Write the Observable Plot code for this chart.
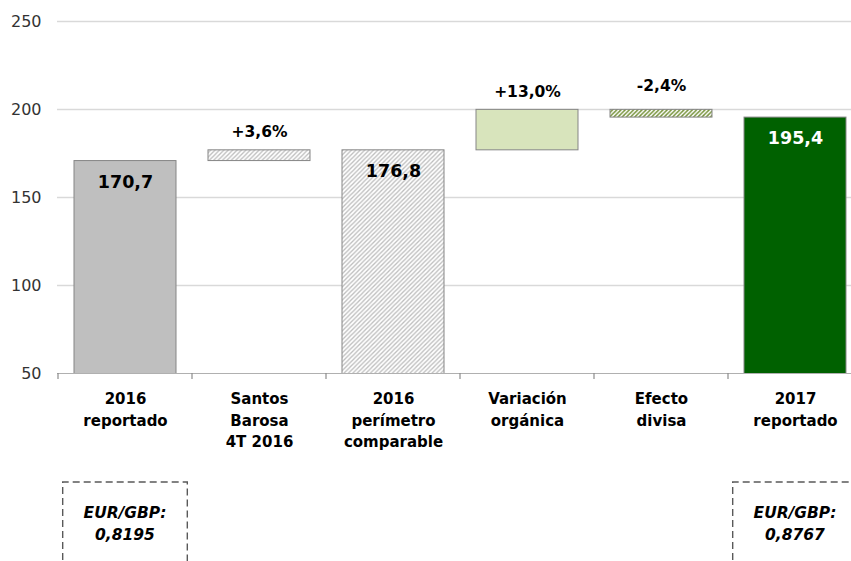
<!DOCTYPE html>
<html>
<head>
<meta charset="utf-8">
<script src="https://cdn.jsdelivr.net/npm/d3@7"></script>
<script src="https://cdn.jsdelivr.net/npm/@observablehq/plot@0.6"></script>
<style>
  html, body { margin: 0; padding: 0; background: #fff; }
  #chart { position: relative; width: 851px; height: 561px; overflow: hidden; }
</style>
</head>
<body>
<div id="chart"></div>
<script>
// ---- data ----
const categories = [
  "2016\nreportado",
  "Santos\nBarosa\n4T 2016",
  "2016\nperímetro\ncomparable",
  "Variación\norgánica",
  "Efecto\ndivisa",
  "2017\nreportado"
];
const barStart = [0, 170.7, 0, 176.8, 195.4, 0];
const barEnd   = [170.7, 176.8, 176.8, 199.8, 199.8, 195.4];
const totalLabels = ["170,7", null, "176,8", null, null, "195,4"];
const changeLabels = [null, "+3,6%", null, "+13,0%", "-2,4%", null];
const yTicks = [50, 100, 150, 200, 250];
const fxNotes = [
  {category: "2016\nreportado", lines: ["EUR/GBP:", "0,8195"]},
  {category: "2017\nreportado", lines: ["EUR/GBP:", "0,8767"]}
];

// ---- styles (by category) ----
const fills = {
  "2016\nreportado": "#bfbfbf",
  "Santos\nBarosa\n4T 2016": "url(#hatchGray)",
  "2016\nperímetro\ncomparable": "url(#hatchGray)",
  "Variación\norgánica": "#d8e4bc",
  "Efecto\ndivisa": "url(#hatchGreen)",
  "2017\nreportado": "#006100"
};

const rows = categories.map((c, i) => ({
  category: c, y1: barStart[i], y2: barEnd[i],
  total: totalLabels[i], change: changeLabels[i]
}));

const FONT = "'DejaVu Sans', sans-serif";

const plot = Plot.plot({
  width: 851,
  height: 561,
  marginTop: 21,
  marginBottom: 188,
  marginLeft: 57,
  marginRight: -13,
  style: {fontFamily: FONT, background: "#fff", overflow: "visible"},
  x: {domain: categories, paddingInner: 0.237, paddingOuter: 0.1185, label: null},
  y: {domain: [50, 250], label: null},
  marks: [
    Plot.gridY([100, 150, 200, 250], {stroke: "#d9d9d9", strokeOpacity: 1, strokeWidth: 1.5}),
    Plot.barY(rows, {
      x: "category", y1: "y1", y2: "y2",
      fill: d => fills[d.category],
      stroke: "#858585", strokeWidth: 1, clip: true
    }),
    Plot.ruleY([50], {stroke: "#b0b0b0", strokeWidth: 1.2}),
    Plot.text(rows.filter(d => d.total), {
      x: "category", y: "y2", text: "total",
      fill: d => d.category === "2017\nreportado" ? "#fff" : "#000",
      fontSize: 17.5, fontWeight: "bold", dy: 21
    }),
    Plot.text(rows.filter(d => d.change && d.category !== "Efecto\ndivisa"), {
      x: "category", y: "y2", text: "change",
      fill: "#000", fontSize: 15.5, fontWeight: "bold", dy: -18
    }),
    Plot.text(rows.filter(d => d.category === "Efecto\ndivisa"), {
      x: "category", y: "y2", text: "change",
      fill: "#000", fontSize: 15.5, fontWeight: "bold", dy: -24
    }),
    Plot.axisY(yTicks, {tickSize: 0, tickPadding: 16, fontSize: 16, fill: "#333", label: null}),
    Plot.axisX({tickSize: 0, tickPadding: 15, fontSize: 15, fontWeight: "bold", fill: "#000", lineHeight: 1.45, label: null})
  ]
});

document.getElementById("chart").appendChild(plot);

// ---- patterns ("/" diagonal hatching) ----
const svg = d3.select(plot);
const defs = svg.insert("defs", ":first-child");
function hatch(id, size, color, width, bg) {
  const p = defs.append("pattern").attr("id", id).attr("patternUnits", "userSpaceOnUse")
    .attr("width", size).attr("height", size);
  p.append("rect").attr("width", size).attr("height", size).attr("fill", bg);
  p.append("path")
    .attr("d", `M-1,1L1,-1M0,${size}L${size},0M${size - 1},${size + 1}L${size + 1},${size - 1}`)
    .attr("stroke", color).attr("stroke-width", width).attr("stroke-linecap", "square");
}
hatch("hatchGray", 4.4, "#bdbdbd", 1.3, "#fff");
hatch("hatchGreen", 4.2, "#77933c", 1.5, "#fff");

// ---- category boundary ticks & notes ----
const xs = plot.scale("x");
const ys = plot.scale("y");
const base = ys.apply(50);
const step = xs.step;
const centers = categories.map(c => xs.apply(c) + xs.bandwidth / 2);
const bounds = [centers[0] - step / 2, ...centers.map(c => c + step / 2)];
const g = svg.append("g");
g.selectAll("line").data(bounds).join("line")
  .attr("x1", d => d).attr("x2", d => d).attr("y1", base).attr("y2", base + 6)
  .attr("stroke", "#8c8c8c").attr("stroke-width", 1.2);

const notes = svg.append("g");
fxNotes.forEach(n => {
  const cx = xs.apply(n.category) + xs.bandwidth / 2;
  const w = step * 0.93;
  const top = base + 109;
  const path = `M${cx - w / 2},${top + 100}V${top}H${cx + w / 2}V${top + 100}`;
  notes.append("path").attr("d", path).attr("fill", "none")
    .attr("stroke", "#595959").attr("stroke-width", 1.4).attr("stroke-dasharray", "7,4");
  n.lines.forEach((t, i) => {
    notes.append("text").attr("x", cx).attr("y", top + 36 + i * 22)
      .attr("text-anchor", "middle").attr("font-family", FONT)
      .attr("font-size", 15.5).attr("font-weight", "bold").attr("font-style", "italic")
      .attr("fill", "#000").text(t);
  });
});
</script>
</body>
</html>
